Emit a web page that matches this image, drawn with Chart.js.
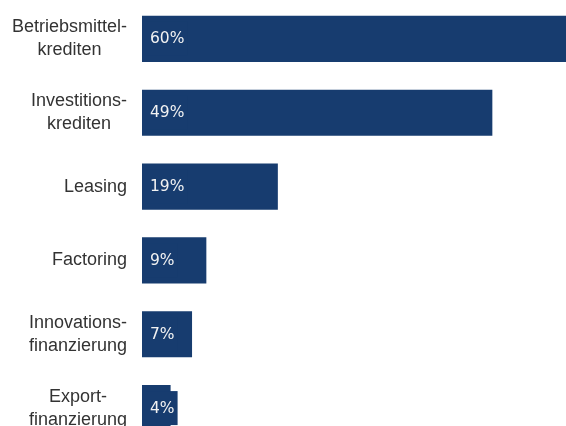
<!DOCTYPE html>
<html>
<head>
<meta charset="utf-8">
<script src="https://cdn.jsdelivr.net/npm/chart.js@4"></script>
<style>
    html, body { margin: 0; padding: 0; background: #fff; overflow: hidden; }
    #wrap { position: relative; width: 571px; height: 446px; }
</style>
</head>
<body>
<div id="wrap"><canvas id="chart"></canvas></div>
<script>
// Chart data
const categories = [
    ['Betriebsmittel-', 'krediten'],
    ['Investitions-', 'krediten'],
    ['Leasing'],
    ['Factoring'],
    ['Innovations-', 'finanzierung'],
    ['Export-', 'finanzierung']
];
const shares = [60, 49, 19, 9, 7, 4];
const valueLabels = ['60%', '49%', '19%', '9%', '7%', '4%'];

const barColor = '#173c6f';
const labelFont = '18px "Liberation Sans", Arial, sans-serif';
const valueFont = '15.5px "DejaVu Sans", sans-serif';

// Category labels: block right aligned, lines centered inside the block
const categoryLabels = {
    id: 'categoryLabels',
    afterDraw(chart) {
        const ctx = chart.ctx;
        const yScale = chart.scales.y;
        const right = chart.chartArea.left - 15;
        const lineHeight = 23;
        ctx.save();
        ctx.font = labelFont;
        ctx.fillStyle = '#333333';
        ctx.textAlign = 'center';
        ctx.textBaseline = 'middle';
        categories.forEach((lines, i) => {
            const y = yScale.getPixelForTick(i);
            const maxW = Math.max(...lines.map(l => ctx.measureText(l).width));
            const cx = right - maxW / 2;
            const top = y - (lines.length - 1) * lineHeight / 2;
            lines.forEach((line, j) => ctx.fillText(line, cx, top + j * lineHeight));
        });
        ctx.restore();
    }
};

// Value labels inside the bars, with a small box behind them
const valueTags = {
    id: 'valueTags',
    afterDatasetsDraw(chart) {
        const ctx = chart.ctx;
        const meta = chart.getDatasetMeta(0);
        ctx.save();
        ctx.font = valueFont;
        ctx.textBaseline = 'middle';
        ctx.textAlign = 'left';
        meta.data.forEach((bar, i) => {
            const x = bar.base + 8;
            const w = ctx.measureText(valueLabels[i]).width;
            ctx.fillStyle = barColor;
            ctx.fillRect(bar.base + 4, bar.y - 17, w + 7, 34);
            ctx.fillStyle = '#f2f2f2';
            ctx.fillText(valueLabels[i], x, bar.y + 0.5);
        });
        ctx.restore();
    }
};

new Chart(document.getElementById('chart').getContext('2d'), {
    type: 'bar',
    data: {
        labels: categories,
        datasets: [{
            data: shares,
            backgroundColor: barColor,
            borderWidth: 0,
            categoryPercentage: 1,
            barPercentage: 0.625
        }]
    },
    options: {
        indexAxis: 'y',
        responsive: true,
        maintainAspectRatio: false,
        animation: false,
        layout: { padding: { top: 2, bottom: 1, left: 0, right: 0 } },
        plugins: {
            legend: { display: false },
            tooltip: { enabled: false }
        },
        scales: {
            x: {
                display: false,
                min: 0,
                max: 60
            },
            y: {
                ticks: { display: false },
                grid: { display: false, drawTicks: false },
                border: { display: false },
                afterFit(scale) { scale.width = 142; }
            }
        }
    },
    plugins: [categoryLabels, valueTags]
});
</script>
</body>
</html>
